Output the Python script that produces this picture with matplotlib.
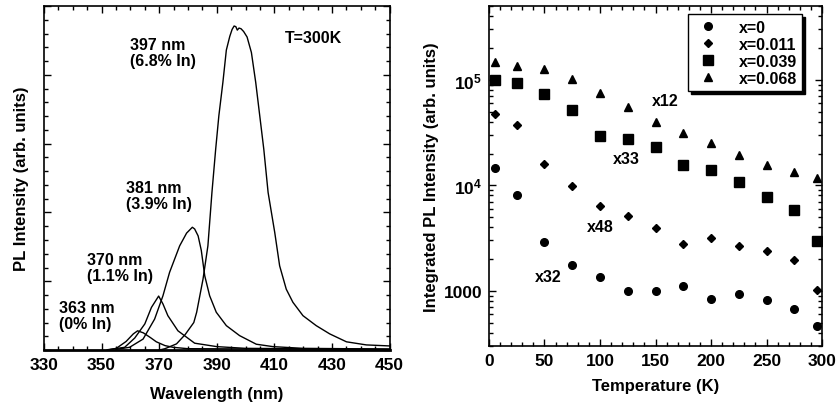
import numpy as np
import matplotlib
matplotlib.use("Agg")
import matplotlib.pyplot as plt
from matplotlib.ticker import MultipleLocator, FixedLocator, FixedFormatter, NullFormatter, LogLocator

plt.rcParams['font.family'] = ['Liberation Sans', 'DejaVu Sans']
plt.rcParams['font.weight'] = 'bold'
plt.rcParams['mathtext.fontset'] = 'custom'
plt.rcParams['mathtext.bf'] = 'Liberation Sans:bold'
plt.rcParams['mathtext.rm'] = 'Liberation Sans:bold'

# ---- left panel: PL spectra at 300 K (arb. units) ----
wl_363 = [352, 355.1, 358.5, 361, 362.5, 364.5, 367, 369, 372, 374.8, 380, 450]
pl_363 = [0.0, 0.005, 0.025, 0.047, 0.056, 0.05, 0.036, 0.024, 0.013, 0.008, 0.004, 0.002]

wl_370 = [352, 358, 361.5, 365, 367.3, 369.8, 371.3, 373, 376.5, 382.3, 390, 400, 450]
pl_370 = [0.001, 0.008, 0.035, 0.076, 0.124, 0.157, 0.134, 0.1, 0.056, 0.02, 0.01, 0.005, 0.002]

wl_381 = [355, 359.7, 364.4, 368.4, 371.3, 373.6, 377.1, 379.5, 381.5, 382.3, 383.5,
          384.6, 385.8, 387.5, 389.8, 393.3, 397.9, 403.7, 409.5, 420, 450]
pl_381 = [0.002, 0.008, 0.032, 0.09, 0.158, 0.226, 0.303, 0.34, 0.357, 0.352, 0.332,
          0.29, 0.216, 0.158, 0.11, 0.071, 0.042, 0.017, 0.01, 0.005, 0.003]

wl_397 = [370, 372, 376, 379, 382, 383, 385.2, 386.9, 388.3, 389.6, 390.7, 392.1, 393.3,
          394.5, 395.3, 396.0, 396.6, 397.1, 397.7, 398.4, 399.3, 400.5, 402, 403.5,
          404.9, 406.3, 407.8, 410.1, 411.8, 414.1, 416.4, 419.9, 424.5, 429.2, 435,
          441.9, 450]
pl_397 = [0.0, 0.004, 0.018, 0.045, 0.08, 0.11, 0.206, 0.303, 0.458, 0.584, 0.681, 0.778, 0.872,
          0.912, 0.932, 0.942, 0.94, 0.93, 0.936, 0.934, 0.926, 0.91, 0.865, 0.778,
          0.681, 0.584, 0.458, 0.342, 0.245, 0.177, 0.139, 0.10, 0.071, 0.047, 0.024,
          0.015, 0.012]

wl_ticks = [330, 350, 370, 390, 410, 430, 450]
peak_labels = ["363 nm\n(0% In)", "370 nm\n(1.1% In)", "381 nm\n(3.9% In)", "397 nm\n(6.8% In)"]
peak_label_pos = [(335.2, 0.145), (345.0, 0.285), (358.5, 0.494), (360, 0.91)]

# ---- right panel: integrated PL vs temperature ----
temps = [5, 25, 50, 75, 100, 125, 150, 175, 200, 225, 250, 275, 295]
int_x0 = [1.45e4, 8.1e3, 2.88e3, 1.75e3, 1.34e3, 986, 1.0e3, 1.11e3, 828, 938, 809, 675, 466]
int_x011 = [4.79e4, 3.74e4, 1.58e4, 9.8e3, 6.4e3, 5.1e3, 3.96e3, 2.77e3, 3.16e3, 2.64e3, 2.4e3, 1.95e3, 1.02e3]
int_x039 = [9.9e4, 9.4e4, 7.4e4, 5.15e4, 2.92e4, 2.73e4, 2.33e4, 1.57e4, 1.39e4, 1.07e4, 7.7e3, 5.8e3, 2.98e3]
int_x068 = [1.47e5, 1.36e5, 1.27e5, 1.01e5, 7.5e4, 5.5e4, 4.0e4, 3.1e4, 2.5e4, 1.93e4, 1.57e4, 1.35e4, 1.17e4]
series_labels = ["x=0", "x=0.011", "x=0.039", "x=0.068"]

scale_labels = ["x12", "x33", "x48", "x32"]
scale_pos = [(159, 6.4e4), (124, 1.79e4), (100, 4.1e3), (53, 1.38e3)]

fig = plt.figure(figsize=(8.38, 4.14), dpi=100)

# left
ax1 = fig.add_axes([0.0525, 0.152, 0.4125, 0.831])
for wl, pl in [(wl_363, pl_363), (wl_370, pl_370), (wl_381, pl_381), (wl_397, pl_397)]:
    ax1.plot(wl, pl, color='black', lw=1.0)
ax1.set_xlim(330, 450)
ax1.set_ylim(0, 1.0)
ax1.xaxis.set_major_locator(FixedLocator(wl_ticks))
ax1.xaxis.set_minor_locator(MultipleLocator(5))
ax1.yaxis.set_major_locator(MultipleLocator(0.2))
ax1.yaxis.set_minor_locator(MultipleLocator(0.04))
ax1.yaxis.set_major_formatter(NullFormatter())
ax1.set_xlabel("Wavelength (nm)", fontsize=12, fontweight='bold', labelpad=10)
ax1.set_ylabel("PL Intensity (arb. units)", fontsize=12, fontweight='bold', labelpad=6)
for txt, (x, y) in zip(peak_labels, peak_label_pos):
    ax1.text(x, y, txt, fontsize=11.5, fontweight='bold', va='top', ha='left', linespacing=1.1)
ax1.text(423.6, 0.91, "T=300K", fontsize=11.5, fontweight='bold', ha='center', va='center')

# right
ax2 = fig.add_axes([0.5835, 0.162, 0.3975, 0.821])
ax2.set_yscale('log')
ax2.plot(temps, int_x0, 'o', color='black', ms=5.5, label=series_labels[0])
ax2.plot(temps, int_x011, 'D', color='black', ms=4.5, label=series_labels[1])
ax2.plot(temps, int_x039, 's', color='black', ms=6.5, label=series_labels[2])
ax2.plot(temps, int_x068, '^', color='black', ms=5.5, label=series_labels[3])
ax2.set_xlim(0, 300)
ax2.set_ylim(300, 5e5)
ax2.xaxis.set_major_locator(MultipleLocator(50))
ax2.xaxis.set_minor_locator(MultipleLocator(10))
ax2.yaxis.set_major_locator(FixedLocator([1e3, 1e4, 1e5]))
ax2.yaxis.set_major_formatter(FixedFormatter(["1000", r"$\mathbf{10^{4}}$", r"$\mathbf{10^{5}}$"]))
ax2.yaxis.set_minor_locator(LogLocator(base=10, subs=np.arange(2, 10)))
ax2.yaxis.set_minor_formatter(NullFormatter())
ax2.set_xlabel("Temperature (K)", fontsize=12, fontweight='bold', labelpad=7)
ax2.set_ylabel("Integrated PL Intensity (arb. units)", fontsize=12, fontweight='bold', labelpad=3)
for txt, (x, y) in zip(scale_labels, scale_pos):
    ax2.text(x, y, txt, fontsize=11.5, fontweight='bold', ha='center', va='center')

leg = ax2.legend(loc='upper right', bbox_to_anchor=(0.955, 0.99), frameon=True, fancybox=False,
                 shadow={'color': 'black', 'alpha': 1}, edgecolor='black',
                 handletextpad=1.0, borderpad=0.35, labelspacing=0.12, handlelength=1.8,
                 borderaxespad=0.3, prop={'weight': 'bold', 'size': 11.5})
leg.get_frame().set_linewidth(1.0)

for ax in (ax1, ax2):
    ax.tick_params(which='both', direction='in', top=True, right=True, labelsize=12.5, width=1.0)
    ax.tick_params(which='major', length=5, pad=5)
    ax.tick_params(which='minor', length=3)
    for lab in ax.get_xticklabels() + ax.get_yticklabels():
        lab.set_fontweight('bold')
    for s in ax.spines.values():
        s.set_linewidth(1.2)
ax1.spines['bottom'].set_linewidth(2)

fig.savefig("out.png", dpi=100)
